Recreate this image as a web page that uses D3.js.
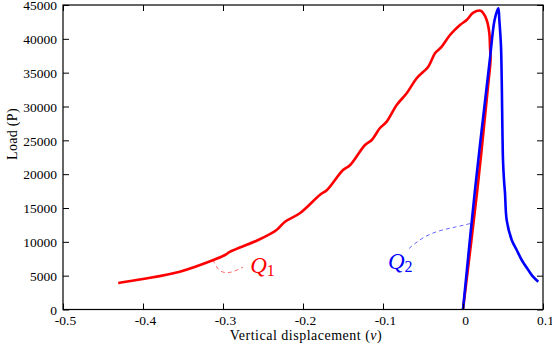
<!DOCTYPE html>
<html>
<head>
<meta charset="utf-8">
<script src="https://cdn.jsdelivr.net/npm/d3@7"></script>
<style>
  html, body { margin: 0; padding: 0; background: #fff; }
  svg { display: block; }
  text { font-family: "Liberation Serif", "DejaVu Serif", serif; }
</style>
</head>
<body>
<svg id="chart" width="552" height="345"></svg>
<script>
// ---- data ----
const xTicks = [-0.5, -0.4, -0.3, -0.2, -0.1, 0, 0.1];
const xTickLabels = ["-0.5", "-0.4", "-0.3", "-0.2", "-0.1", "0", "0.1"];
const yTicks = [0, 5000, 10000, 15000, 20000, 25000, 30000, 35000, 40000, 45000];
const yTickLabels = ["0", "5000", "10000", "15000", "20000", "25000", "30000", "35000", "40000", "45000"];

// Q1 (red) : vertical displacement, load
const q1X = [-0.431, -0.4, -0.354, -0.312, -0.2975, -0.291, -0.256, -0.233, -0.2225, -0.204,
             -0.179, -0.170, -0.150, -0.141, -0.1225, -0.114, -0.104, -0.0954, -0.0829, -0.0704,
             -0.0579, -0.0434, -0.035, -0.0266, -0.01625, -0.00375, 0.0046, 0.0129, 0.0221, 0.0254,
             0.0296, 0.0329, 0.03375, 0.0344, 0.0321, 0.0179, 0.0];
const q1Y = [3917, 4508, 5587, 7316, 8055, 8543, 10272, 11750, 12977, 14218,
             16923, 17662, 20618, 21357, 24313, 25052, 26781, 27757, 30225, 31954,
             34171, 35886, 37866, 38842, 40571, 42049, 42788, 43867, 44163, 43778,
             42788, 40867, 38842, 36876, 33920, 17662, 0];

// Q2 (blue)
const q2X = [0.0, 0.015, 0.0335, 0.0395, 0.0441, 0.0454, 0.0475, 0.0484, 0.05, 0.05125,
             0.0525, 0.0546, 0.0609, 0.0671, 0.0734, 0.0816, 0.0875, 0.0941];
const q2Y = [0, 17662, 36876, 42788, 44518, 42788, 38842, 33920, 22100, 19140,
             17220, 13228, 10272, 8794, 7316, 5838, 4848, 4109];

// annotation leaders (data coords)
const lead1X = [-0.3125, -0.3060, -0.2975, -0.2875, -0.2750];
const lead1Y = [7316, 5765, 5370, 5518, 6257];
const lead2X = [-0.0675, -0.0500, -0.0288, -0.0079, 0.0096];
const lead2Y = [9016, 10746, 11726, 12214, 12716];

const xLabel = "Vertical displacement (";
const yLabel = "Load (P)";

// ---- layout ----
const svg = d3.select("#chart");
const L = 63, R = 543, T = 5, B = 309.5;
const x = d3.scaleLinear().domain([-0.5, 0.1]).range([L, R]);
const y = d3.scaleLinear().domain([0, 45000]).range([B, T]);

const pts = (xs, ys) => xs.map((v, i) => [v, ys[i]]);
const smooth = d3.line().x(d => x(d[0])).y(d => y(d[1])).curve(d3.curveCatmullRom.alpha(0.5));
const basis = d3.line().x(d => x(d[0])).y(d => y(d[1])).curve(d3.curveBasis);

svg.append("path").datum(pts(lead1X, lead1Y)).attr("d", basis)
  .attr("fill", "none").attr("stroke", "#ff0000").attr("stroke-opacity", 0.75)
  .attr("stroke-width", 0.8).attr("stroke-dasharray", "4,3");
svg.append("path").datum(pts(lead2X, lead2Y)).attr("d", basis)
  .attr("fill", "none").attr("stroke", "#0000ff").attr("stroke-opacity", 0.75)
  .attr("stroke-width", 0.8).attr("stroke-dasharray", "4,3");

svg.append("path").datum(pts(q1X, q1Y)).attr("d", smooth)
  .attr("fill", "none").attr("stroke", "#ff0000").attr("stroke-width", 2.6)
  .attr("stroke-linejoin", "round");
svg.append("path").datum(pts(q2X, q2Y)).attr("d", smooth)
  .attr("fill", "none").attr("stroke", "#0000ff").attr("stroke-width", 2.6)
  .attr("stroke-linejoin", "round");

// axes (ticks inward on all four sides)
const tk = 6;
const gB = svg.append("g").attr("transform", `translate(0,${B})`)
  .call(d3.axisBottom(x).tickValues(xTicks).tickFormat((d, i) => xTickLabels[i]).tickSizeInner(-tk).tickSizeOuter(0).tickPadding(6));
const gT = svg.append("g").attr("transform", `translate(0,${T})`)
  .call(d3.axisTop(x).tickValues(xTicks).tickFormat("").tickSizeInner(-tk).tickSizeOuter(0));
const gL = svg.append("g").attr("transform", `translate(${L},0)`)
  .call(d3.axisLeft(y).tickValues(yTicks).tickFormat((d, i) => yTickLabels[i]).tickSizeInner(-tk).tickSizeOuter(0).tickPadding(6));
const gR = svg.append("g").attr("transform", `translate(${R},0)`)
  .call(d3.axisRight(y).tickValues(yTicks).tickFormat("").tickSizeInner(-tk).tickSizeOuter(0));
[gB, gT, gL, gR].forEach(g => {
  g.select(".domain").remove();
  g.selectAll("line").attr("stroke", "#000").attr("stroke-width", 1);
  g.selectAll("text").attr("font-family", "Liberation Serif, serif").attr("font-size", 13.5).attr("fill", "#000");
});
gL.selectAll("text").attr("dy", "0.35em");
gB.selectAll("text").attr("dx", 2);

// frame
svg.append("rect").attr("x", L).attr("y", T).attr("width", R - L).attr("height", B - T)
  .attr("fill", "none").attr("stroke", "#000").attr("stroke-width", 1.2);

// axis titles
const xt = svg.append("text").attr("x", (L + R) / 2 + 3).attr("y", 340)
  .attr("text-anchor", "middle").attr("font-size", 14).attr("letter-spacing", 0.5).attr("fill", "#000");
xt.append("tspan").text(xLabel);
xt.append("tspan").attr("font-style", "italic").text("v");
xt.append("tspan").text(")");

svg.append("text").attr("transform", "translate(17,134) rotate(-90)")
  .attr("text-anchor", "middle").attr("font-size", 14).attr("letter-spacing", 0.3).attr("fill", "#000").text(yLabel);

// Q labels
function qLabel(px, py, sub, color) {
  const t = svg.append("text").attr("x", x(px)).attr("y", y(py)).attr("fill", color).attr("font-size", 23);
  t.append("tspan").attr("font-style", "italic").text("Q");
  t.append("tspan").attr("font-size", 16).attr("dy", 3).text(sub);
}
qLabel(-0.266, 5400, "1", "#ff0000");
qLabel(-0.0938, 6000, "2", "#0000ff");
</script>
</body>
</html>
